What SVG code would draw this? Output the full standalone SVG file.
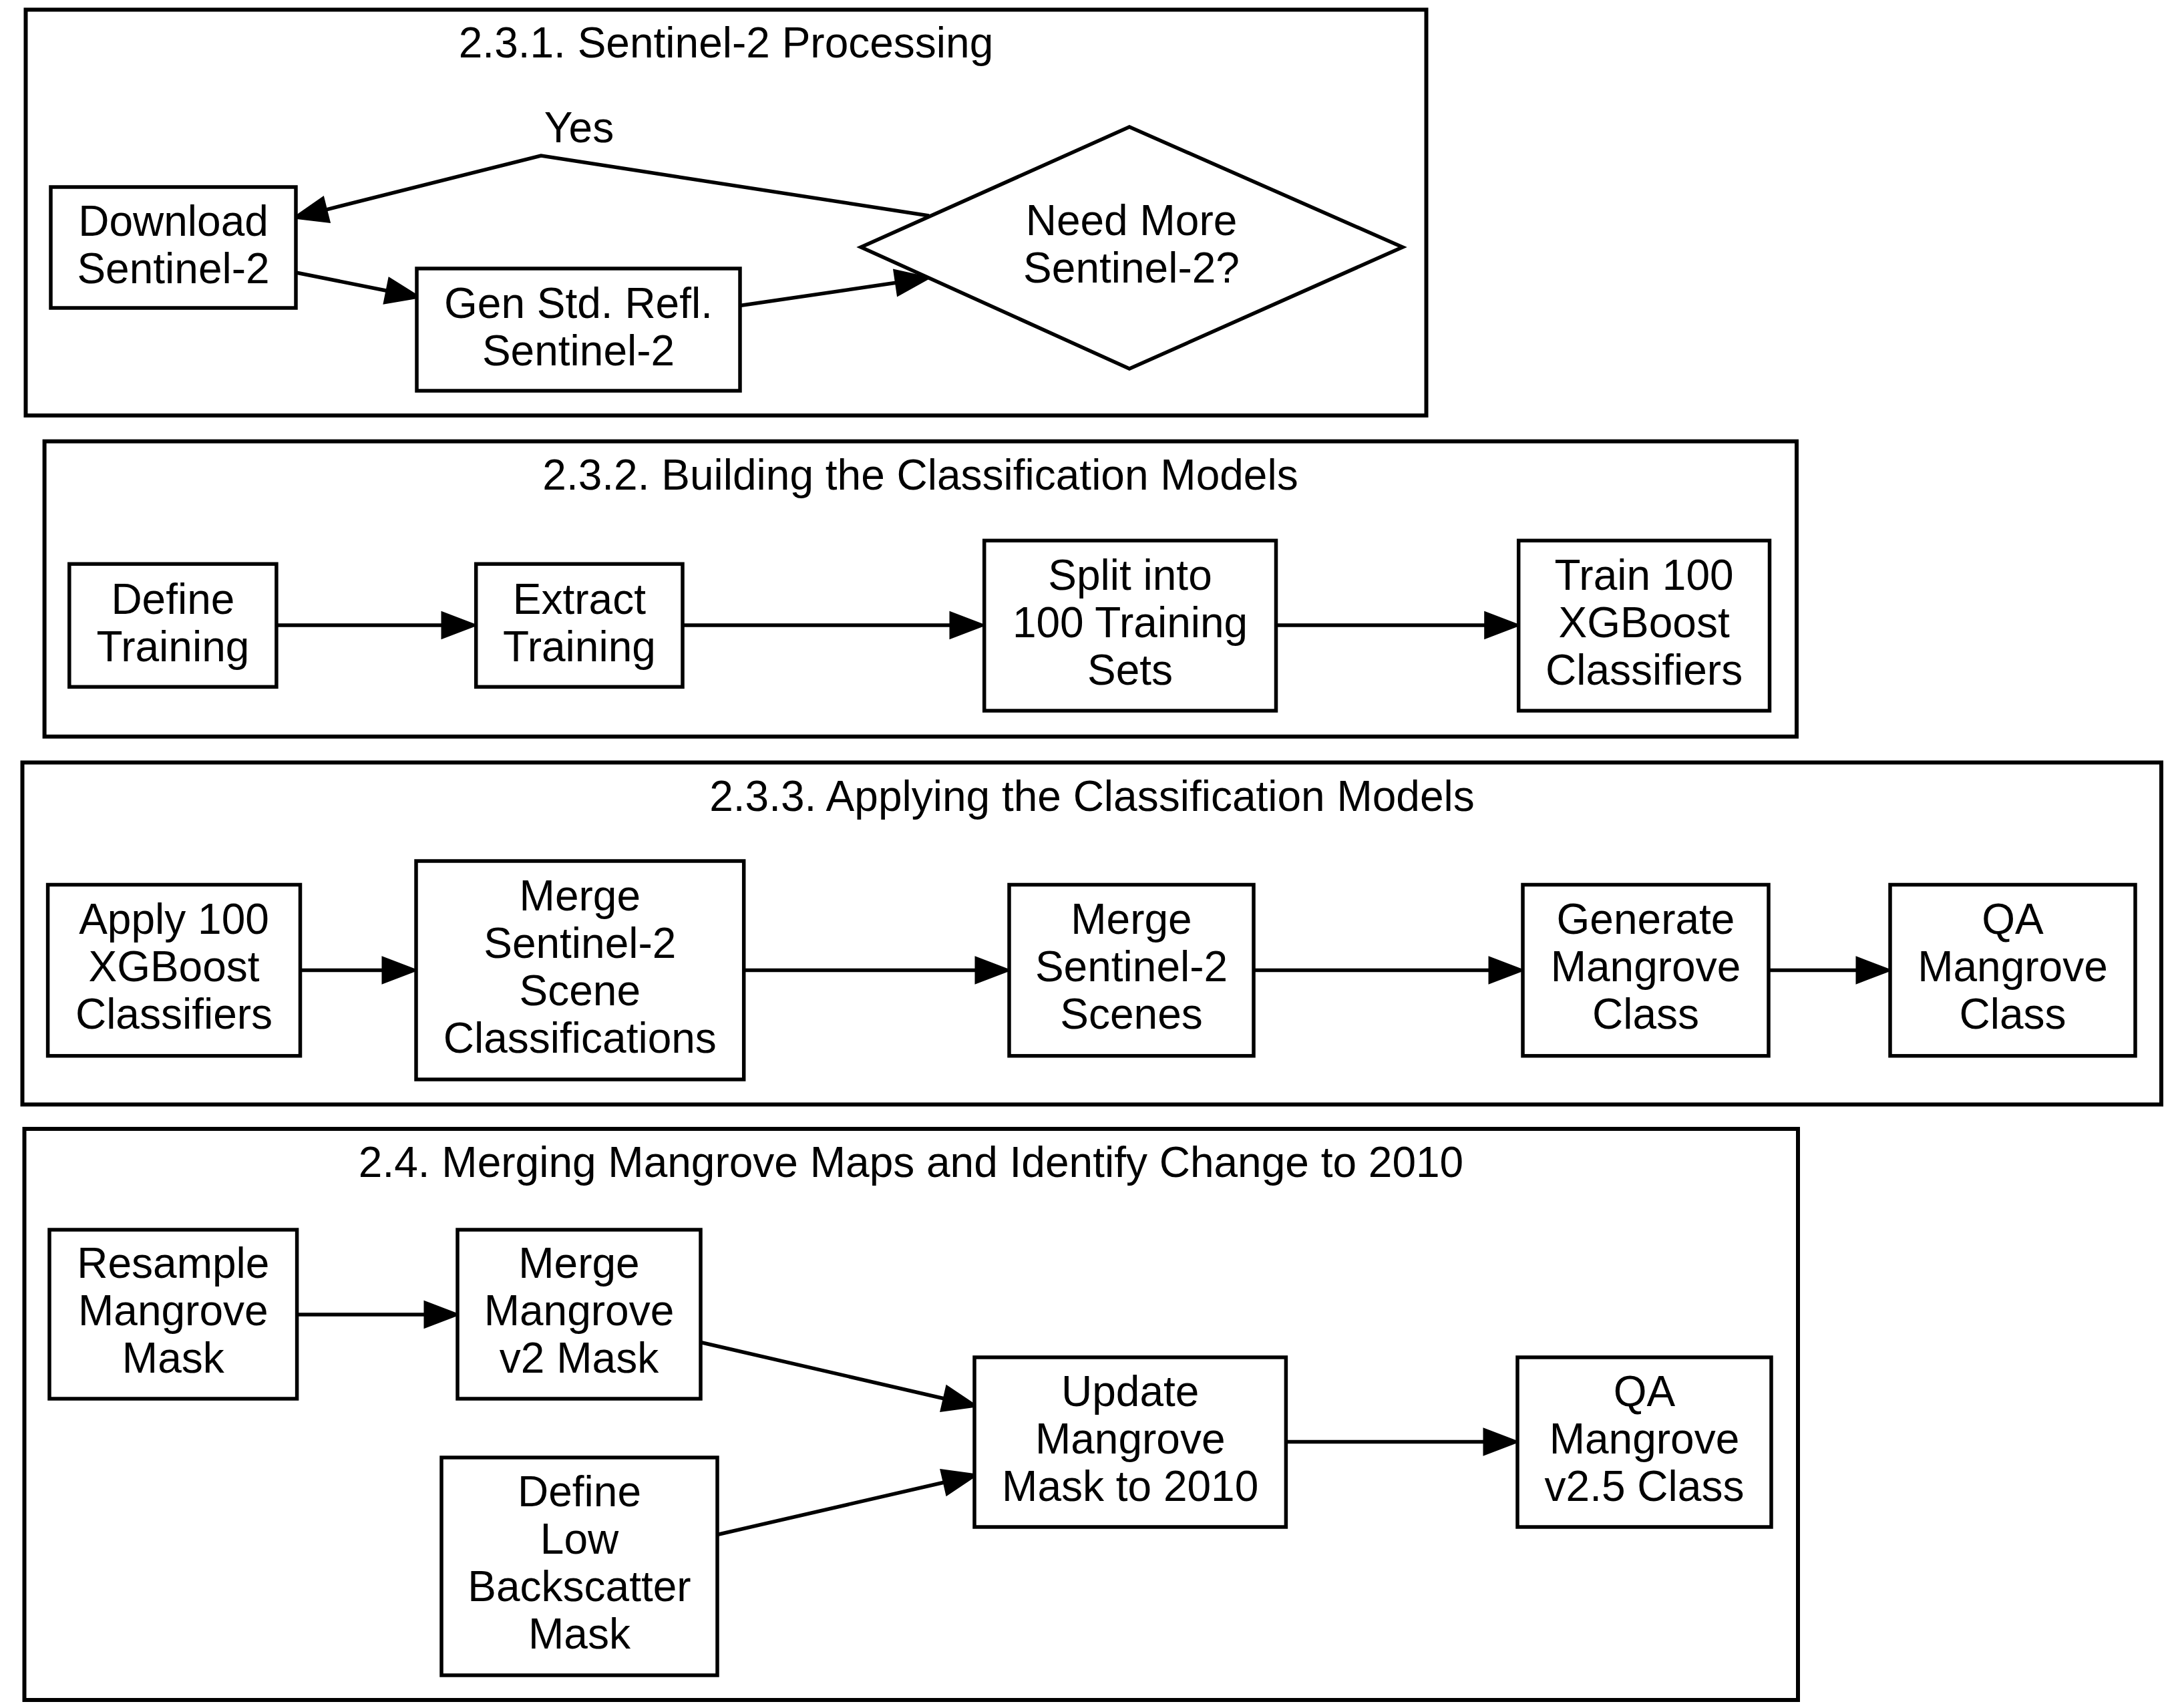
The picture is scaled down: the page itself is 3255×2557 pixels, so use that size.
<svg xmlns="http://www.w3.org/2000/svg" width="3255" height="2557" viewBox="0 0 3255 2557">
<style>
  .cl { fill: none; stroke: #000; stroke-width: 6; }
  .nd { fill: #fff; stroke: #000; stroke-width: 5.5; }
  .t { font-family: "Liberation Sans", Arial, Helvetica, sans-serif; font-size: 64px; text-anchor: middle; fill: #000; }
  .e { fill: none; stroke: #000; stroke-width: 5.5; marker-end: url(#ah); }
</style>
<defs>
  <marker id="ah" markerUnits="userSpaceOnUse" markerWidth="64" markerHeight="48" refX="2" refY="22" orient="auto" overflow="visible">
    <path d="M2,3 L52,22 L2,41 Z" fill="#000" stroke="#000" stroke-width="3"/>
  </marker>
</defs>
<rect width="3255" height="2557" fill="#fff"/>

<g id="cluster-231">
  <rect class="cl" x="38.5" y="14.5" width="2097" height="607.5"/>
  <text class="t" x="1087" y="86">2.3.1. Sentinel-2 Processing</text>
</g>
<g id="cluster-232">
  <rect class="cl" x="66.6" y="660.7" width="2623.4" height="442"/>
  <text class="t" x="1378" y="733">2.3.2. Building the Classification Models</text>
</g>
<g id="cluster-233">
  <rect class="cl" x="33.5" y="1141.5" width="3202.5" height="512"/>
  <text class="t" x="1635" y="1214">2.3.3. Applying the Classification Models</text>
</g>
<g id="cluster-24">
  <rect class="cl" x="36.5" y="1690" width="2655.5" height="855"/>
  <text class="t" x="1364" y="1762">2.4. Merging Mangrove Maps and Identify Change to 2010</text>
</g>

<g id="connectors">
  <polyline class="e" points="1391,323 810,233 488.5,313.8"/>
  <text class="t" x="867" y="213">Yes</text>
  <line class="e" x1="443" y1="408" x2="579" y2="435.2"/>
  <line class="e" x1="1108" y1="457.5" x2="1341.5" y2="423.3"/>

  <line class="e" x1="414" y1="936" x2="662" y2="936"/>
  <line class="e" x1="1022" y1="936" x2="1423" y2="936"/>
  <line class="e" x1="1910.5" y1="936" x2="2223.7" y2="936"/>

  <line class="e" x1="449.5" y1="1452.5" x2="573" y2="1452.5"/>
  <line class="e" x1="1113.7" y1="1452.5" x2="1461" y2="1452.5"/>
  <line class="e" x1="1877" y1="1452.5" x2="2230" y2="1452.5"/>
  <line class="e" x1="2648" y1="1452.5" x2="2780" y2="1452.5"/>

  <line class="e" x1="444.6" y1="1968" x2="636" y2="1968"/>
  <line class="e" x1="1049" y1="2009.5" x2="1413.3" y2="2093.7"/>
  <line class="e" x1="1074" y1="2297.5" x2="1413.3" y2="2219.2"/>
  <line class="e" x1="1925.4" y1="2158.5" x2="2222" y2="2158.5"/>
</g>

<g id="download">
  <rect class="nd" x="76" y="280" width="367" height="181"/>
  <text class="t"><tspan x="259.5" y="352.5">Download</tspan><tspan x="259.5" y="423.5">Sentinel-2</tspan></text>
</g>
<g id="genstdrefl">
  <rect class="nd" x="624" y="402" width="484" height="183"/>
  <text class="t"><tspan x="866" y="475.5">Gen Std. Refl.</tspan><tspan x="866" y="546.5">Sentinel-2</tspan></text>
</g>
<g id="needmore">
  <polygon class="nd" points="1691,190 2100,370 1691,552 1289,370"/>
  <text class="t"><tspan x="1694" y="352">Need More</tspan><tspan x="1694" y="423">Sentinel-2?</tspan></text>
</g>

<g id="definetraining">
  <rect class="nd" x="103.8" y="844.3" width="310.1" height="184"/>
  <text class="t"><tspan x="258.9" y="918.5">Define</tspan><tspan x="258.9" y="989.5">Training</tspan></text>
</g>
<g id="extracttraining">
  <rect class="nd" x="712.7" y="844.3" width="309.3" height="184"/>
  <text class="t"><tspan x="867.4" y="918.5">Extract</tspan><tspan x="867.4" y="989.5">Training</tspan></text>
</g>
<g id="split">
  <rect class="nd" x="1473.7" y="809.3" width="436.8" height="254.7"/>
  <text class="t"><tspan x="1692" y="882.5">Split into</tspan><tspan x="1692" y="953.5">100 Training</tspan><tspan x="1692" y="1024.5">Sets</tspan></text>
</g>
<g id="train">
  <rect class="nd" x="2273.7" y="809.3" width="375.8" height="254.7"/>
  <text class="t"><tspan x="2461.6" y="882.5">Train 100</tspan><tspan x="2461.6" y="953.5">XGBoost</tspan><tspan x="2461.6" y="1024.5">Classifiers</tspan></text>
</g>

<g id="apply">
  <rect class="nd" x="71.6" y="1324.5" width="377.9" height="256.2"/>
  <text class="t"><tspan x="260.5" y="1398">Apply 100</tspan><tspan x="260.5" y="1469">XGBoost</tspan><tspan x="260.5" y="1540">Classifiers</tspan></text>
</g>
<g id="mergescenecls">
  <rect class="nd" x="623" y="1289" width="490.7" height="327"/>
  <text class="t"><tspan x="868.3" y="1363">Merge</tspan><tspan x="868.3" y="1434">Sentinel-2</tspan><tspan x="868.3" y="1505">Scene</tspan><tspan x="868.3" y="1576">Classifications</tspan></text>
</g>
<g id="mergescenes">
  <rect class="nd" x="1511" y="1324.5" width="366" height="256.2"/>
  <text class="t"><tspan x="1694" y="1398">Merge</tspan><tspan x="1694" y="1469">Sentinel-2</tspan><tspan x="1694" y="1540">Scenes</tspan></text>
</g>
<g id="generate">
  <rect class="nd" x="2280" y="1324.5" width="368" height="256.2"/>
  <text class="t"><tspan x="2464" y="1398">Generate</tspan><tspan x="2464" y="1469">Mangrove</tspan><tspan x="2464" y="1540">Class</tspan></text>
</g>
<g id="qaclass">
  <rect class="nd" x="2830" y="1324.5" width="367" height="256.2"/>
  <text class="t"><tspan x="3013.5" y="1398">QA</tspan><tspan x="3013.5" y="1469">Mangrove</tspan><tspan x="3013.5" y="1540">Class</tspan></text>
</g>

<g id="resample">
  <rect class="nd" x="74" y="1841" width="370.6" height="253"/>
  <text class="t"><tspan x="259.3" y="1913">Resample</tspan><tspan x="259.3" y="1984">Mangrove</tspan><tspan x="259.3" y="2055">Mask</tspan></text>
</g>
<g id="mergev2">
  <rect class="nd" x="685" y="1841" width="364" height="253"/>
  <text class="t"><tspan x="867" y="1913">Merge</tspan><tspan x="867" y="1984">Mangrove</tspan><tspan x="867" y="2055">v2 Mask</tspan></text>
</g>
<g id="definelow">
  <rect class="nd" x="661" y="2182" width="413" height="326"/>
  <text class="t"><tspan x="867.5" y="2254.5">Define</tspan><tspan x="867.5" y="2325.5">Low</tspan><tspan x="867.5" y="2396.5">Backscatter</tspan><tspan x="867.5" y="2467.5">Mask</tspan></text>
</g>
<g id="update">
  <rect class="nd" x="1459" y="2032" width="466.4" height="254"/>
  <text class="t"><tspan x="1692.2" y="2105">Update</tspan><tspan x="1692.2" y="2176">Mangrove</tspan><tspan x="1692.2" y="2247">Mask to 2010</tspan></text>
</g>
<g id="qav25">
  <rect class="nd" x="2272" y="2032" width="380" height="254"/>
  <text class="t"><tspan x="2462" y="2105">QA</tspan><tspan x="2462" y="2176">Mangrove</tspan><tspan x="2462" y="2247">v2.5 Class</tspan></text>
</g>
</svg>
